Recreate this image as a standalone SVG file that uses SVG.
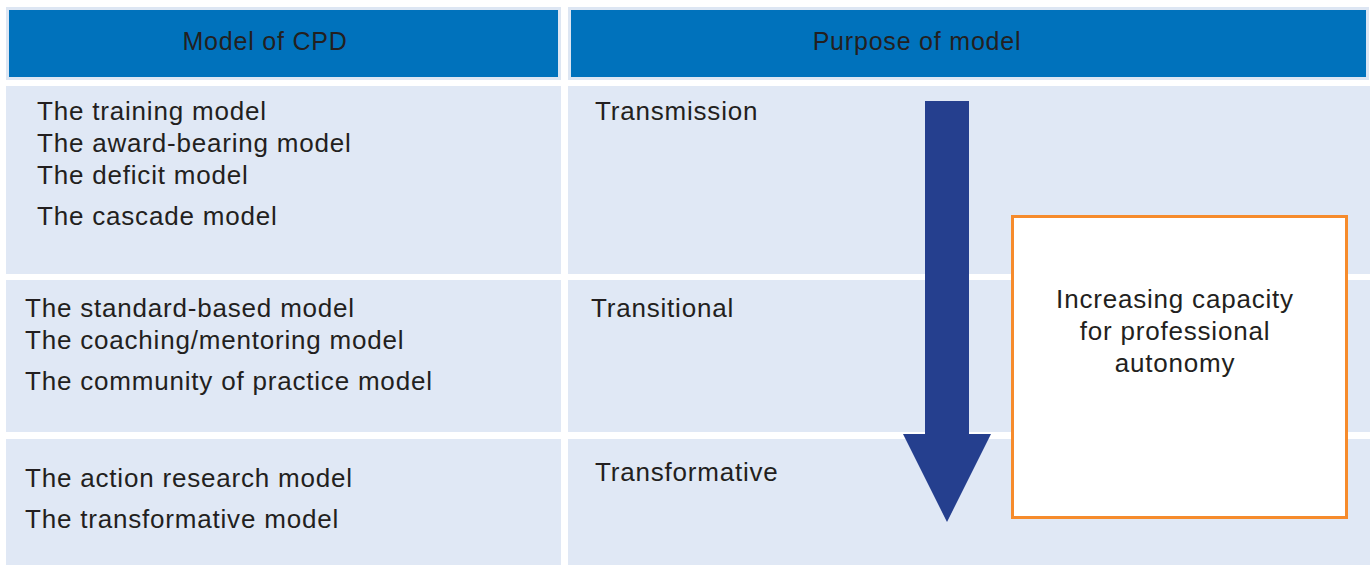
<svg xmlns="http://www.w3.org/2000/svg" width="1370" height="565" viewBox="0 0 1370 565">
<style>
.hdr{fill:#0072bc;stroke:#dde6f3;stroke-width:3}
.cell{fill:#e0e8f5}
.ht{font-family:"Liberation Sans",Arial,sans-serif;font-size:25px;letter-spacing:0.8px;fill:#231f20;text-anchor:middle}
.t{font-family:"Liberation Sans",Arial,sans-serif;font-size:26px;letter-spacing:0.8px;fill:#231f20}
.bt{font-family:"Liberation Sans",Arial,sans-serif;font-size:26px;letter-spacing:0.8px;fill:#231f20;text-anchor:middle}
</style>
<rect width="1370" height="565" fill="#ffffff"/>
<g id="header-left"><rect class="hdr" x="7.5" y="8.5" width="552" height="70"/><text class="ht" x="265" y="50">Model of CPD</text></g>
<g id="header-right"><rect class="hdr" x="569.5" y="8.5" width="798" height="70"/><text class="ht" x="917" y="50">Purpose of model</text></g>
<g id="row1-left"><rect class="cell" x="6" y="86" width="555" height="188"/>
<text class="t" x="37" y="120">The training model</text>
<text class="t" x="37" y="152">The award-bearing model</text>
<text class="t" x="37" y="184">The deficit model</text>
<text class="t" x="37" y="225">The cascade model</text></g>
<g id="row1-right"><rect class="cell" x="568" y="86" width="802" height="188"/>
<text class="t" x="595" y="120">Transmission</text></g>
<g id="row2-left"><rect class="cell" x="6" y="280" width="555" height="152"/>
<text class="t" x="25" y="317">The standard-based model</text>
<text class="t" x="25" y="349">The coaching/mentoring model</text>
<text class="t" x="25" y="390">The community of practice model</text></g>
<g id="row2-right"><rect class="cell" x="568" y="280" width="802" height="152"/>
<text class="t" x="591" y="317">Transitional</text></g>
<g id="row3-left"><rect class="cell" x="6" y="439" width="555" height="126"/>
<text class="t" x="25" y="487">The action research model</text>
<text class="t" x="25" y="528">The transformative model</text></g>
<g id="row3-right"><rect class="cell" x="568" y="439" width="802" height="126"/>
<text class="t" x="595" y="481">Transformative</text></g>
<g id="connectors"><polygon points="925,101 969,101 969,434 991,434 947,522 903,434 925,434" fill="#253f8e"/></g>
<g id="autonomy-box"><rect x="1012.5" y="216.5" width="334" height="301" fill="#ffffff" stroke="#f68b2c" stroke-width="3"/>
<text class="bt" x="1175" y="308">Increasing capacity</text>
<text class="bt" x="1175" y="340">for professional</text>
<text class="bt" x="1175" y="372">autonomy</text></g>
</svg>
